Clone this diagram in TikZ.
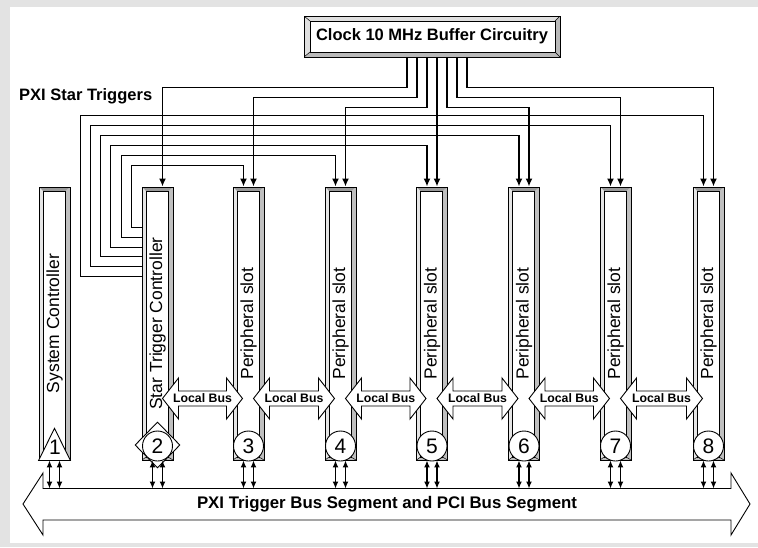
\documentclass[tikz,border=0pt]{standalone}
\usepackage{fontspec}
\setmainfont{Liberation Sans}
\usetikzlibrary{arrows.meta,shapes.geometric}

\def\ppb{path picture bounding box}
\tikzset{
  slot/.style={draw, line width=0.9pt, fill=gray!50, minimum width=31pt, minimum height=273pt, inner sep=0pt,
    path picture={
      \fill[gray!80] (\ppb.north west) -- (\ppb.north east) -- ([shift={(-5pt,-4pt)}]\ppb.north east) -- ([shift={(4pt,-4pt)}]\ppb.north west) -- cycle;
      \fill[gray!20] (\ppb.north west) -- ([shift={(4pt,-4pt)}]\ppb.north west) -- ([shift={(4pt,3pt)}]\ppb.south west) -- (\ppb.south west) -- cycle;
      \draw[line width=0.7pt, fill=white] ([shift={(4pt,-4pt)}]\ppb.north west) rectangle ([shift={(-5pt,3pt)}]\ppb.south east);
      \draw[line width=0.5pt] (\ppb.south west) -- ++(4pt,3pt) (\ppb.south east) -- ++(-5pt,3pt);
    }},
  clockbox/.style={draw, line width=0.9pt, fill=gray!55, minimum width=256pt, minimum height=41pt, inner sep=0pt,
    font=\bfseries\fontsize{16.5}{18}\selectfont,
    path picture={
      \fill[gray!25] (\ppb.north west) -- (\ppb.north east) -- ([shift={(-5pt,-5pt)}]\ppb.north east) -- ([shift={(6pt,-5pt)}]\ppb.north west) -- ([shift={(6pt,5pt)}]\ppb.south west) -- (\ppb.south west) -- cycle;
      \draw[line width=0.7pt, fill=white] ([shift={(6pt,-5pt)}]\ppb.north west) rectangle ([shift={(-5pt,5pt)}]\ppb.south east);
      \draw[line width=0.5pt] (\ppb.north west) -- ++(6pt,-5pt) (\ppb.north east) -- ++(-5pt,-5pt)
        (\ppb.south west) -- ++(6pt,5pt) (\ppb.south east) -- ++(-5pt,5pt);
    }},
  slotlabel/.style={rotate=90, inner sep=0pt, font=\fontsize{17.5}{18}\selectfont},
  num/.style={circle, draw, fill=white, line width=0.9pt, minimum size=30pt, inner sep=0pt, font=\fontsize{21}{22}\selectfont},
  diam/.style={diamond, draw, fill=white, line width=0.9pt, minimum width=45pt, minimum height=46pt, inner sep=0pt},
  trig/.style={line width=1.6pt, -{Latex[length=8pt,width=7pt]}},
  updown/.style={line width=1.3pt, {Latex[length=7pt,width=6pt]}-{Latex[length=7pt,width=6pt]}},
  arrshape/.style={draw, line width=0.9pt, fill=white, line join=miter},
  lbtext/.style={inner sep=0pt, font=\bfseries\fontsize{12.3}{13}\selectfont},
  bustext/.style={inner sep=0pt, font=\bfseries\fontsize{16.8}{18}\selectfont},
}

\begin{document}
\begin{tikzpicture}[x=1pt, y=-1pt]
\fill[gray!22] (0,0) rectangle (758,547);
\fill[white] (10,7) rectangle (758,543);

\draw[arrshape] (23,504) -- (43,473) -- (43,488.5) -- (731,488.5) -- (731,473) -- (750,504) -- (731,535) -- (731,520) -- (43,520) -- (43,535) -- cycle;
\node[bustext] (bus) at (387,504) {PXI Trigger Bus Segment and PCI Bus Segment};
\coordinate (bustop) at (387,488.5);

\node[slot] (s1) at (54.5,323.5) {};
\node[slot] (s2) at (157.5,323.5) {};
\node[slot] (s3) at (248.5,323.5) {};
\node[slot] (s4) at (340.5,323.5) {};
\node[slot] (s5) at (432,323.5) {};
\node[slot] (s6) at (524,323.5) {};
\node[slot] (s7) at (615.5,323.5) {};
\node[slot] (s8) at (708.5,323.5) {};

\node[slotlabel] (l1) at (s1) {System Controller};
\node[slotlabel] (l2) at (s2) {Star Trigger Controller};
\node[slotlabel] (l3) at (s3) {Peripheral slot};
\node[slotlabel] (l4) at (s4) {Peripheral slot};
\node[slotlabel] (l5) at (s5) {Peripheral slot};
\node[slotlabel] (l6) at (s6) {Peripheral slot};
\node[slotlabel] (l7) at (s7) {Peripheral slot};
\node[slotlabel] (l8) at (s8) {Peripheral slot};

\draw[arrshape] (162.5,398.5) -- (178.5,378) -- (178.5,391) -- (226.5,391) -- (226.5,378) -- (242.5,398.5) -- (226.5,419) -- (226.5,406) -- (178.5,406) -- (178.5,419) -- cycle;
\draw[arrshape] (253.5,398.5) -- (269.5,378) -- (269.5,391) -- (318.5,391) -- (318.5,378) -- (334.5,398.5) -- (318.5,419) -- (318.5,406) -- (269.5,406) -- (269.5,419) -- cycle;
\draw[arrshape] (345.5,398.5) -- (361.5,378) -- (361.5,391) -- (410,391) -- (410,378) -- (426,398.5) -- (410,419) -- (410,406) -- (361.5,406) -- (361.5,419) -- cycle;
\draw[arrshape] (437,398.5) -- (453,378) -- (453,391) -- (502,391) -- (502,378) -- (518,398.5) -- (502,419) -- (502,406) -- (453,406) -- (453,419) -- cycle;
\draw[arrshape] (529,398.5) -- (545,378) -- (545,391) -- (593.5,391) -- (593.5,378) -- (609.5,398.5) -- (593.5,419) -- (593.5,406) -- (545,406) -- (545,419) -- cycle;
\draw[arrshape] (620.5,398.5) -- (636.5,378) -- (636.5,391) -- (686.5,391) -- (686.5,378) -- (702.5,398.5) -- (686.5,419) -- (686.5,406) -- (636.5,406) -- (636.5,419) -- cycle;
\node[lbtext] (lb23) at (202.5,398.5) {Local Bus};
\node[lbtext] (lb34) at (294,398.5) {Local Bus};
\node[lbtext] (lb45) at (385.75,398.5) {Local Bus};
\node[lbtext] (lb56) at (477.5,398.5) {Local Bus};
\node[lbtext] (lb67) at (569.25,398.5) {Local Bus};
\node[lbtext] (lb78) at (661.5,398.5) {Local Bus};

\draw[fill=white, line width=0.9pt] (s1.south west) -- (s1.south east) -- ([yshift=32pt]s1.south) -- cycle;
\node[num, draw=none, fill=none] (m1) at (55,447) {1};
\node[diam] (d2) at (157.5,445) {};
\node[num] (m2) at (157.5,446) {2};
\node[num] (m3) at (248.5,446) {3};
\node[num] (m4) at (340.5,446) {4};
\node[num] (m5) at (432,446) {5};
\node[num] (m6) at (524,446) {6};
\node[num] (m7) at (615.5,446) {7};
\node[num] (m8) at (708.5,446) {8};

\draw[updown] ([xshift=-5pt]s1.south) -- ([xshift=-5pt]s1.south |- bustop);
\draw[updown] ([xshift=5pt]s1.south) -- ([xshift=5pt]s1.south |- bustop);
\draw[updown] ([xshift=-5pt]s2.south) -- ([xshift=-5pt]s2.south |- bustop);
\draw[updown] ([xshift=5pt]s2.south) -- ([xshift=5pt]s2.south |- bustop);
\draw[updown] ([xshift=-5pt]s3.south) -- ([xshift=-5pt]s3.south |- bustop);
\draw[updown] ([xshift=5pt]s3.south) -- ([xshift=5pt]s3.south |- bustop);
\draw[updown] ([xshift=-5pt]s4.south) -- ([xshift=-5pt]s4.south |- bustop);
\draw[updown] ([xshift=5pt]s4.south) -- ([xshift=5pt]s4.south |- bustop);
\draw[updown] ([xshift=-5pt]s5.south) -- ([xshift=-5pt]s5.south |- bustop);
\draw[updown] ([xshift=5pt]s5.south) -- ([xshift=5pt]s5.south |- bustop);
\draw[updown] ([xshift=-5pt]s6.south) -- ([xshift=-5pt]s6.south |- bustop);
\draw[updown] ([xshift=5pt]s6.south) -- ([xshift=5pt]s6.south |- bustop);
\draw[updown] ([xshift=-5pt]s7.south) -- ([xshift=-5pt]s7.south |- bustop);
\draw[updown] ([xshift=5pt]s7.south) -- ([xshift=5pt]s7.south |- bustop);
\draw[updown] ([xshift=-5pt]s8.south) -- ([xshift=-5pt]s8.south |- bustop);
\draw[updown] ([xshift=5pt]s8.south) -- ([xshift=5pt]s8.south |- bustop);

\node[clockbox] (clk) at (432,36.5) {Clock 10 MHz Buffer Circuitry};
\node[anchor=west, inner sep=0pt, font=\bfseries\fontsize{16.5}{18}\selectfont] (star) at (19,96) {PXI Star Triggers};

\draw[trig] ([xshift=-25pt]clk.south) -- ++(0,30) -| ([xshift=5pt]s2.north);
\draw[trig] ([xshift=-15pt]clk.south) -- ++(0,40) -| ([xshift=5pt]s3.north);
\draw[trig] ([xshift=-5pt]clk.south) -- ++(0,50) -| ([xshift=5pt]s4.north);
\draw[trig] ([xshift=5pt]clk.south) -- ([xshift=5pt]s5.north);
\draw[trig] ([xshift=15pt]clk.south) -- ++(0,50) -| ([xshift=5pt]s6.north);
\draw[trig] ([xshift=25pt]clk.south) -- ++(0,40) -| ([xshift=5pt]s7.north);
\draw[trig] ([xshift=35pt]clk.south) -- ++(0,30) -| ([xshift=5pt]s8.north);

\draw[trig] ([yshift=-41pt]s2.north west) -| ++(-10,-62) -| ([xshift=-5pt]s3.north);
\draw[trig] ([yshift=-51pt]s2.north west) -| ++(-20,-82) -| ([xshift=-5pt]s4.north);
\draw[trig] ([yshift=-61pt]s2.north west) -| ++(-31,-102) -| ([xshift=-5pt]s5.north);
\draw[trig] ([yshift=-70pt]s2.north west) -| ++(-41,-121) -| ([xshift=-5pt]s6.north);
\draw[trig] ([yshift=-80pt]s2.north west) -| ++(-51,-141) -| ([xshift=-5pt]s7.north);
\draw[trig] ([yshift=-90pt]s2.north west) -| ++(-61,-161) -| ([xshift=-5pt]s8.north);
\end{tikzpicture}
\end{document}
